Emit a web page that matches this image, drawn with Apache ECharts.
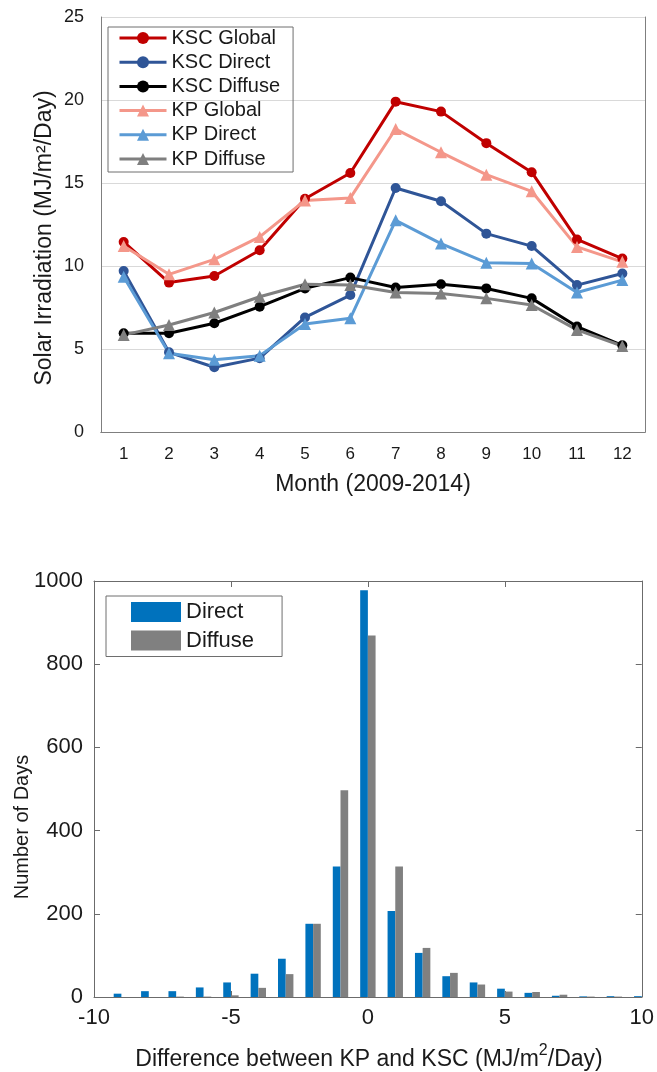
<!DOCTYPE html>
<html>
<head>
<meta charset="utf-8">
<script src="https://cdn.jsdelivr.net/npm/echarts@6/dist/echarts.min.js"></script>
<style>
html,body{margin:0;padding:0;background:#fff;}
#c{width:657px;height:1072px;}
</style>
</head>
<body>
<div id="c"></div>
<script>
// ---- Top chart data ----
const months = ['1','2','3','4','5','6','7','8','9','10','11','12'];
const kscGlobal  = [11.45, 9.0, 9.4, 10.95, 14.05, 15.6, 19.9, 19.3, 17.4, 15.65, 11.6, 10.45];
const kscDirect  = [9.7, 4.8, 3.9, 4.45, 6.9, 8.25, 14.7, 13.9, 11.95, 11.2, 8.85, 9.55];
const kscDiffuse = [5.95, 5.95, 6.55, 7.55, 8.65, 9.3, 8.7, 8.9, 8.65, 8.05, 6.35, 5.22];
const kpGlobal   = [11.2, 9.5, 10.4, 11.75, 13.95, 14.1, 18.25, 16.85, 15.5, 14.5, 11.15, 10.25];
const kpDirect   = [9.35, 4.75, 4.35, 4.6, 6.5, 6.85, 12.75, 11.35, 10.2, 10.15, 8.4, 9.15];
const kpDiffuse  = [5.85, 6.45, 7.2, 8.15, 8.9, 8.85, 8.4, 8.35, 8.05, 7.65, 6.15, 5.18];

// ---- Bottom chart data ----
const diffBins   = [-10, -9, -8, -7, -6, -5, -4, -3, -2, -1, 0, 1, 2, 3, 4, 5, 6, 7, 8, 9, 10];
const directDays = [0, 8, 14, 14, 23, 35, 56, 92, 176, 314, 978, 207, 106, 50, 35, 20, 10, 3, 1.5, 2, 2];
const diffuseDays= [0, 0, 0, 1, 1, 4, 22, 55, 176, 497, 869, 314, 118, 58, 30, 13, 12, 5.5, 1, 1, 0];

const FONT = '"Liberation Sans", Arial, sans-serif';
const TXT = '#1a1a1a';

const chart = echarts.init(document.getElementById('c'), null, {renderer: 'canvas'});

function lineSeries(name, data, color, symbol) {
  return {
    name: name, type: 'line', xAxisIndex: 0, yAxisIndex: 0,
    data: data, symbol: symbol, symbolSize: symbol === 'circle' ? 10 : 12,
    showAllSymbol: true,
    lineStyle: {color: color, width: 3},
    itemStyle: {color: color},
    emphasis: {disabled: true},
    animation: false
  };
}

const option = {
  animation: false,
  textStyle: {fontFamily: FONT},
  grid: [
    {left: 101, top: 17, right: 12, bottom: 640, containLabel: false},
    {left: 94, top: 581, right: 14, bottom: 75, containLabel: false}
  ],
  graphic: [
    {
      type: 'text', x: 45, y: 238, rotation: Math.PI / 2,
      style: {text: 'Solar Irradiation (MJ/m\u00B2/Day)', font: '23px ' + FONT, fill: TXT,
              align: 'center', verticalAlign: 'middle'}
    },
    {
      type: 'text', x: 373, y: 485,
      style: {text: 'Month (2009-2014)', font: '23px ' + FONT, fill: TXT,
              align: 'center', verticalAlign: 'middle'}
    },
    {
      type: 'text', x: 22, y: 827, rotation: Math.PI / 2,
      style: {text: 'Number of Days', font: '20px ' + FONT, fill: TXT,
              align: 'center', verticalAlign: 'middle'}
    },
    {
      type: 'text', x: 369, y: 1057,
      style: {
        text: '{a|Difference between KP and KSC (MJ/m}{s|2}{a|/Day)}',
        align: 'center', verticalAlign: 'middle',
        rich: {
          a: {font: '23px ' + FONT, fill: TXT, color: TXT, verticalAlign: 'bottom', lineHeight: 28},
          s: {font: '16px ' + FONT, fill: TXT, color: TXT, verticalAlign: 'top', lineHeight: 16}
        }
      }
    }
  ],
  legend: [
    {
      data: ['KSC Global','KSC Direct','KSC Diffuse','KP Global','KP Direct','KP Diffuse'],
      orient: 'vertical', left: 108, top: 27,
      padding: [1, 13, 3, 10], itemGap: 4.2,
      itemWidth: 47, itemHeight: 15,
      lineStyle: {width: 3},
      borderColor: '#6e6e6e', borderWidth: 1,
      textStyle: {fontFamily: FONT, fontSize: 20, color: TXT, lineHeight: 20},
      selectedMode: false
    },
    {
      data: ['Direct','Diffuse'],
      orient: 'vertical', left: 106, top: 596,
      padding: [5, 28, 5, 25], itemGap: 6.5,
      itemWidth: 50, itemHeight: 20,
      borderColor: '#6e6e6e', borderWidth: 1,
      icon: 'rect',
      textStyle: {fontFamily: FONT, fontSize: 22, color: TXT, lineHeight: 20},
      selectedMode: false
    }
  ],
  xAxis: [
    {
      gridIndex: 0, type: 'category', data: months, boundaryGap: true,
      axisLine: {show: true, lineStyle: {color: '#7f7f7f', width: 1}},
      axisTick: {show: false},
      axisLabel: {fontFamily: FONT, fontSize: 17, color: TXT, margin: 14},
      splitLine: {show: false}
    },
    {
      gridIndex: 0, type: 'category', data: months, position: 'top',
      axisLine: {show: true, lineStyle: {color: '#7f7f7f', width: 1}},
      axisTick: {show: false}, axisLabel: {show: false}, splitLine: {show: false}
    },
    {
      gridIndex: 1, type: 'value', min: -10, max: 10, interval: 5,
      axisLine: {show: true, onZero: false, lineStyle: {color: '#6b6b6b', width: 1}},
      axisTick: {show: true, inside: true, length: 6, lineStyle: {color: '#6b6b6b'}},
      axisLabel: {fontFamily: FONT, fontSize: 22, color: TXT, margin: 10},
      splitLine: {show: false}
    },
    {
      gridIndex: 1, type: 'value', min: -10, max: 10, interval: 5, position: 'top',
      axisLine: {show: true, onZero: false, lineStyle: {color: '#6b6b6b', width: 1}},
      axisTick: {show: true, inside: true, length: 6, lineStyle: {color: '#6b6b6b'}},
      axisLabel: {show: false}, splitLine: {show: false}
    }
  ],
  yAxis: [
    {
      gridIndex: 0, type: 'value', min: 0, max: 25, interval: 5,
      axisLine: {show: true, lineStyle: {color: '#7f7f7f', width: 1}},
      axisTick: {show: false},
      axisLabel: {fontFamily: FONT, fontSize: 18, color: TXT, margin: 17},
      splitLine: {show: true, lineStyle: {color: '#d9d9d9', width: 1}}
    },
    {
      gridIndex: 0, type: 'value', min: 0, max: 25, interval: 5, position: 'right',
      axisLine: {show: true, lineStyle: {color: '#7f7f7f', width: 1}},
      axisTick: {show: false}, axisLabel: {show: false}, splitLine: {show: false}
    },
    {
      gridIndex: 1, type: 'value', min: 0, max: 1000, interval: 200,
      axisLine: {show: true, onZero: false, lineStyle: {color: '#6b6b6b', width: 1}},
      axisTick: {show: true, inside: true, length: 6, lineStyle: {color: '#6b6b6b'}},
      axisLabel: {fontFamily: FONT, fontSize: 22, color: TXT, margin: 11,
                  formatter: function (v) { return String(v); }},
      splitLine: {show: false}
    },
    {
      gridIndex: 1, type: 'value', min: 0, max: 1000, interval: 200, position: 'right',
      axisLine: {show: true, onZero: false, lineStyle: {color: '#6b6b6b', width: 1}},
      axisTick: {show: true, inside: true, length: 6, lineStyle: {color: '#6b6b6b'}},
      axisLabel: {show: false}, splitLine: {show: false}
    }
  ],
  series: [
    lineSeries('KSC Global', kscGlobal, '#c00000', 'circle'),
    lineSeries('KSC Direct', kscDirect, '#2f5597', 'circle'),
    lineSeries('KSC Diffuse', kscDiffuse, '#000000', 'circle'),
    lineSeries('KP Global', kpGlobal, '#f4978a', 'triangle'),
    lineSeries('KP Direct', kpDirect, '#5b9bd5', 'triangle'),
    lineSeries('KP Diffuse', kpDiffuse, '#7f7f7f', 'triangle'),
    {
      name: 'Direct', type: 'bar', xAxisIndex: 2, yAxisIndex: 2,
      data: diffBins.map((b, i) => [b, directDays[i]]),
      barWidth: 7.7, barGap: '0%',
      itemStyle: {color: '#0072bd'}, emphasis: {disabled: true}
    },
    {
      name: 'Diffuse', type: 'bar', xAxisIndex: 2, yAxisIndex: 2,
      data: diffBins.map((b, i) => [b, diffuseDays[i]]),
      barWidth: 7.7, barGap: '0%',
      itemStyle: {color: '#808080'}, emphasis: {disabled: true}
    }
  ]
};
chart.setOption(option);
</script>
</body>
</html>
